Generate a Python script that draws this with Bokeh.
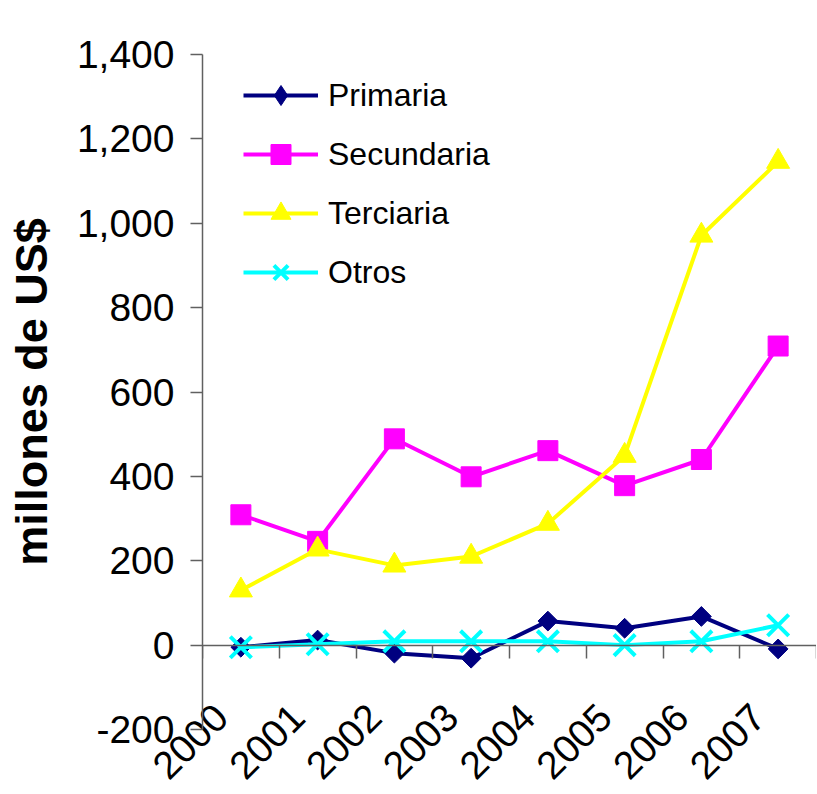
import numpy as np
from math import pi
from bokeh.plotting import figure
from bokeh.models import LinearAxis, FixedTicker, NumeralTickFormatter, Legend, LegendItem
from bokeh.embed import file_html
from bokeh.resources import INLINE

years = ["2000", "2001", "2002", "2003", "2004", "2005", "2006", "2007"]
primaria = [-5, 12, -19, -31, 57, 40, 68, -9]
secundaria = [309, 246, 489, 399, 461, 378, 440, 709]
terciaria = [130, 227, 189, 210, 288, 449, 971, 1146]
otros = [-5, 2, 9, 9, 9, 0, 9, 47]
y_ticks = [-200, 0, 200, 400, 600, 800, 1000, 1200, 1400]
series_names = ["Primaria", "Secundaria", "Terciaria", "Otros"]

n = len(years)
xc = list(np.arange(n) + 0.5)
bounds = list(range(n + 1))
label_pos = [x - 0.26 for x in xc]

FONT = "Liberation Sans"
AXC = "#606060"

p = figure(width=816, height=793, x_range=(0, n), y_range=(y_ticks[0], y_ticks[-1]),
           output_backend="svg", toolbar_location=None, x_axis_location=None,
           min_border_left=202, min_border_top=54, min_border_right=0, min_border_bottom=62,
           background_fill_color="white", border_fill_color="white")
p.outline_line_color = None
p.grid.visible = False

# y axis
yax = p.yaxis[0]
yax.ticker = FixedTicker(ticks=y_ticks)
yax.formatter = NumeralTickFormatter(format="0,0")
yax.major_label_text_font = FONT
yax.major_label_text_font_size = "39px"
yax.major_label_text_color = "black"
yax.major_tick_in = 0
yax.major_tick_out = 12
yax.minor_tick_line_color = None
yax.major_label_standoff = 16
yax.axis_line_color = AXC
yax.axis_line_width = 1.5
yax.major_tick_line_color = AXC
yax.major_tick_line_width = 1.5
yax.axis_label = "millones de US$"
yax.axis_label_text_font = FONT
yax.axis_label_text_font_size = "45px"
yax.axis_label_text_font_style = "bold"
yax.axis_label_text_color = "black"
yax.axis_label_standoff = 17

# x axis line at zero with boundary ticks
xzero = LinearAxis(fixed_location=0, ticker=FixedTicker(ticks=bounds),
                   major_label_overrides={b: "" for b in bounds},
                   axis_line_color=AXC, axis_line_width=1.5,
                   major_tick_line_color=AXC, major_tick_line_width=1.5,
                   major_tick_in=0, major_tick_out=13, minor_tick_line_color=None)
p.add_layout(xzero, "below")

# category labels
xlab = LinearAxis(ticker=FixedTicker(ticks=label_pos),
                  major_label_overrides={x: y for x, y in zip(label_pos, years)},
                  axis_line_color=None, major_tick_line_color=None, minor_tick_line_color=None,
                  major_tick_in=0, major_tick_out=0,
                  major_label_orientation=pi / 4, major_label_standoff=-19,
                  major_label_text_font=FONT, major_label_text_font_size="39px",
                  major_label_text_color="black")
p.add_layout(xlab, "below")

# marker, size, angle in plot; marker in legend
specs = [
    (primaria, "#000080", "square", 14, pi / 4, "diamond"),
    (secundaria, "#FF00FF", "square", 20, 0, "square"),
    (terciaria, "#FFFF00", "triangle", 23, 0, "triangle"),
    (otros, "#00FFFF", "x", 30, 0, "x"),
]
nan = [float("nan")]
items = []
for name, (vals, col, mk, sz, ang, lmk) in zip(series_names, specs):
    lr = p.line(xc, vals, line_color=col, line_width=4)
    if mk == "x":
        p.scatter(xc, vals, marker=mk, size=sz, line_color=col, line_width=4)
        leg_r = p.scatter(nan, nan, marker=lmk, size=sz, line_color=col, line_width=4)
    else:
        p.scatter(xc, vals, marker=mk, size=sz, angle=ang, fill_color=col, line_color=col)
        leg_r = p.scatter(nan, nan, marker=lmk, size=sz, fill_color=col, line_color=col)
    items.append(LegendItem(label=name, renderers=[lr, leg_r]))

legend = Legend(items=items, location=(41, 432), orientation="vertical",
                glyph_width=75, glyph_height=50, spacing=9, padding=10, margin=0,
                label_standoff=10, label_text_font=FONT, label_text_font_size="32px",
                label_text_color="black", border_line_color=None, background_fill_alpha=0)
p.add_layout(legend, "center")

open("out.html", "w").write(file_html(p, INLINE))
